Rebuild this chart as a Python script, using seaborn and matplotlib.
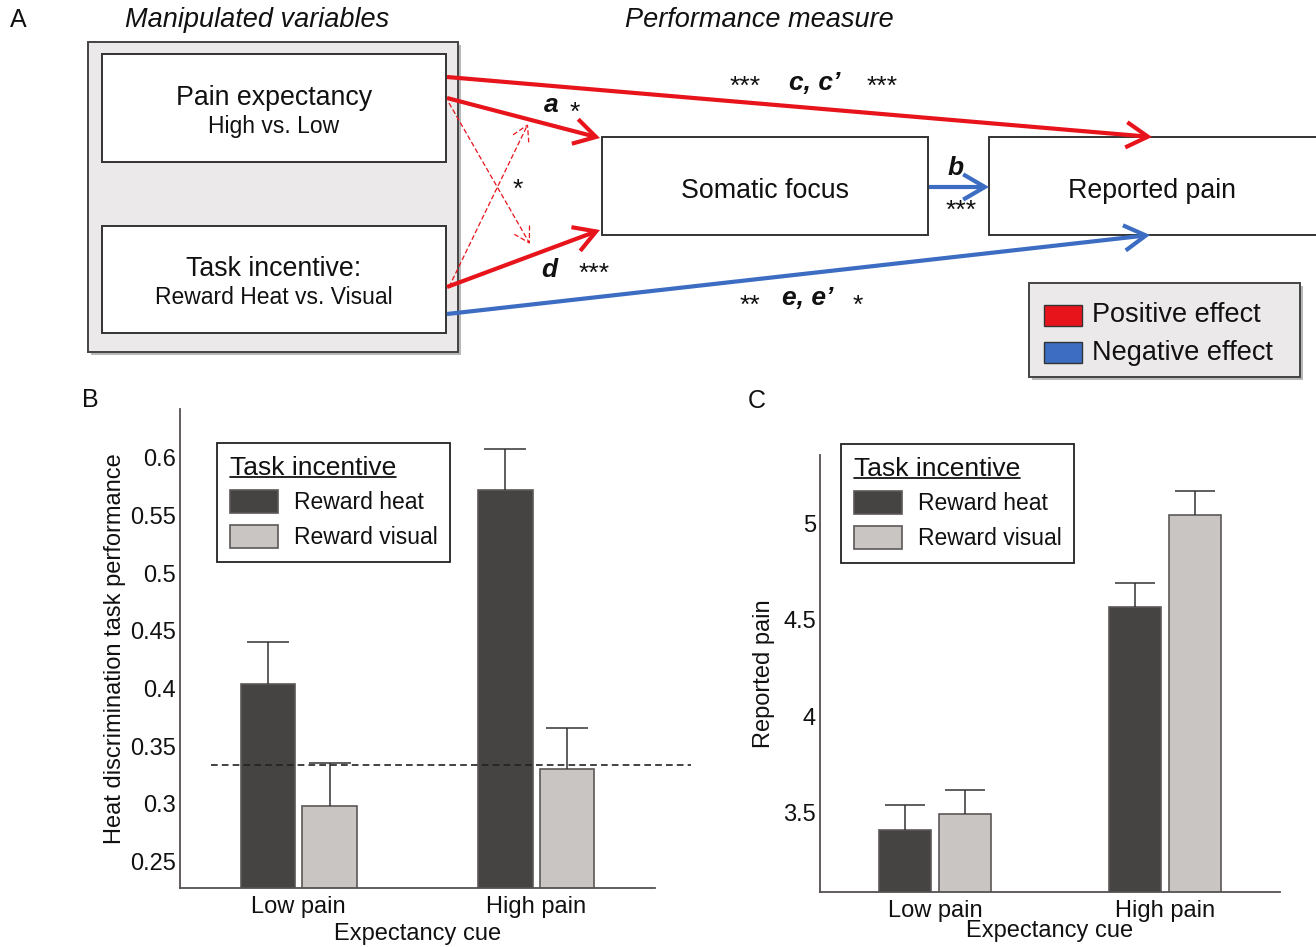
import numpy as np
import pandas as pd
import matplotlib.pyplot as plt
import seaborn as sns
from matplotlib.patches import Rectangle, FancyArrowPatch
from matplotlib.lines import Line2D

# values
cues = ['Low pain', 'High pain']
incentives = ['Reward heat', 'Reward visual']
perf_heat = [0.404, 0.572]
perf_visual = [0.298, 0.330]
perf_err_heat = [0.036, 0.036]
perf_err_visual = [0.037, 0.036]
pain_heat = [3.408, 4.564]
pain_visual = [3.491, 5.040]
pain_err_heat = [0.129, 0.123]
pain_err_visual = [0.125, 0.126]
chance_level = 1 / 3

sns.set_style('white')
plt.rcParams['font.family'] = ['Liberation Sans', 'DejaVu Sans']
plt.rcParams['text.color'] = '#111111'
plt.rcParams['axes.labelcolor'] = '#111111'
plt.rcParams['xtick.labelcolor'] = '#111111'
plt.rcParams['ytick.labelcolor'] = '#111111'

DARK = '#474243'
LIGHT = '#cac4c2'
EDGE = '#5c5858'
SPINE = '#555151'
RED = '#e8141c'
BLUE = '#3c6dc2'
PANEL = '#ebe9e9'

fig = plt.figure(figsize=(13.16, 9.47), dpi=100)

# ---- panel A: path diagram, drawn in pixel coordinates ----
axd = fig.add_axes([0, 0, 1, 1], zorder=0)
axd.set_xlim(0, 1316)
axd.set_ylim(947, 0)
axd.axis('off')


def box(x0, y0, x1, y1, fc='white', ec='#333333', lw=1.4, shadow=False):
    if shadow:
        axd.add_patch(Rectangle((x0 + 3, y0 + 3), x1 - x0, y1 - y0, fc='#b8b8b8', ec='none'))
    axd.add_patch(Rectangle((x0, y0), x1 - x0, y1 - y0, fc=fc, ec=ec, lw=lw))


def arrow(p0, p1, color, lw=3.0, ls='-', scale=26):
    axd.add_patch(FancyArrowPatch(p0, p1, arrowstyle='->,head_length=0.6,head_width=0.35',
                                  mutation_scale=scale, color=color, lw=lw, linestyle=ls,
                                  shrinkA=0, shrinkB=0, joinstyle='miter', capstyle='butt'))


box(88, 42, 458, 352, fc=PANEL, ec='#444444', shadow=True)
box(102, 54, 446, 162)
box(102, 226, 446, 333)
box(602, 137, 928, 235)
box(989, 137, 1318, 235)

arrow((447, 77), (1152, 137), RED)
arrow((447, 98), (600, 138), RED)
arrow((447, 287), (600, 230), RED)
arrow((447, 314), (1150, 235), BLUE)
arrow((929, 187), (989, 187), BLUE)
arrow((449, 103), (530, 244), RED, lw=0.9, ls=(0, (4, 2)), scale=18)
arrow((449, 287), (528, 124), RED, lw=0.9, ls=(0, (4, 2)), scale=18)

axd.text(18, 20, 'A', fontsize=18, ha='center', va='center')
axd.text(257, 20, 'Manipulated variables', fontsize=19.5, style='italic', ha='center', va='center')
axd.text(759, 20, 'Performance measure', fontsize=19.5, style='italic', ha='center', va='center')
axd.text(274, 105, 'Pain expectancy', fontsize=19.3, ha='center', va='baseline')
axd.text(274, 133, 'High vs. Low', fontsize=16.5, ha='center', va='baseline')
axd.text(274, 276, 'Task incentive:', fontsize=19.3, ha='center', va='baseline')
axd.text(274, 304, 'Reward Heat vs. Visual', fontsize=16.5, ha='center', va='baseline')
axd.text(765, 198, 'Somatic focus', fontsize=19.3, ha='center', va='baseline')
axd.text(1152, 198, 'Reported pain', fontsize=19.3, ha='center', va='baseline')

bi = dict(fontsize=19, weight='bold', style='italic', ha='center', va='baseline')
star = dict(fontsize=19, ha='center', va='baseline')
axd.text(551, 112, 'a', **bi)
axd.text(575, 120, '*', **star)
axd.text(518, 197, '*', **star)
axd.text(549, 277, 'd', **bi)
axd.text(594, 281, '***', **star)
axd.text(745, 94, '***', **star)
axd.text(815, 90, 'c, c’', **bi)
axd.text(882, 94, '***', **star)
axd.text(956, 175, 'b', **bi)
axd.text(961, 218, '***', **star)
axd.text(750, 313, '**', **star)
axd.text(808, 305, 'e, e’', **bi)
axd.text(858, 313, '*', **star)

box(1029, 283, 1300, 377, fc=PANEL, ec='#444444', shadow=True)
box(1044, 305, 1082, 326, fc=RED, ec='#333333', lw=1)
box(1044, 342, 1082, 363, fc=BLUE, ec='#333333', lw=1)
axd.text(1092, 315, 'Positive effect', fontsize=19.5, ha='left', va='center')
axd.text(1092, 353, 'Negative effect', fontsize=19.5, ha='left', va='center')


# ---- panels B and C: bar charts ----
def bar_panel(rect, heat, visual, err_heat, err_visual, ylim, yticks, ylabel, letter, letter_xy,
              legend_anchor, xpad, ypad):
    ax = fig.add_axes(rect, zorder=2)
    df = pd.DataFrame({
        'cue': cues * 2,
        'incentive': [incentives[0]] * 2 + [incentives[1]] * 2,
        'value': heat + visual,
    })
    sns.barplot(data=df, x='cue', y='value', hue='incentive', palette=[DARK, LIGHT],
                width=0.52, gap=0.12, edgecolor=EDGE, linewidth=1.2, errorbar=None, ax=ax)
    for cont, errs in zip(ax.containers, [err_heat, err_visual]):
        for bar, e in zip(cont, errs):
            xc = bar.get_x() + bar.get_width() / 2
            top = bar.get_height()
            ax.vlines(xc, top, top + e, color='#333333', lw=1.1, zorder=3)
            ax.hlines(top + e, xc - 0.088, xc + 0.088, color='#333333', lw=1.1, zorder=3)
    ax.set_xlim(-0.5, 1.5)
    ax.set_ylim(*ylim)
    ax.set_yticks(yticks)
    ax.set_yticklabels([f'{t:g}' for t in yticks])
    sns.despine(ax=ax)
    for s in ['left', 'bottom']:
        ax.spines[s].set_color(SPINE)
        ax.spines[s].set_linewidth(1.3)
    ax.tick_params(axis='x', direction='in', length=5, color=SPINE, labelsize=17, pad=6)
    ax.tick_params(axis='y', length=0, labelsize=17, pad=3)
    ax.set_xlabel('Expectancy cue', fontsize=17, labelpad=xpad)
    ax.set_ylabel(ylabel, fontsize=17, labelpad=ypad)
    leg = ax.legend(title='Task incentive', loc='upper left', bbox_to_anchor=legend_anchor,
                    borderaxespad=0, frameon=True, fancybox=False, edgecolor='#222222',
                    framealpha=1, fontsize=16.5, title_fontsize=19, alignment='left',
                    handlelength=2.1, handleheight=1.2, handletextpad=0.7,
                    labelspacing=0.45, borderpad=0.55)
    leg.get_frame().set_linewidth(1.3)
    fig.text(*letter_xy, letter, fontsize=18, ha='center', va='center')
    return ax, leg


axB, legB = bar_panel([180 / 1316, 59 / 947, 475 / 1316, 478.5 / 947],
                      perf_heat, perf_visual, perf_err_heat, perf_err_visual,
                      (0.227, 0.642), [0.25, 0.3, 0.35, 0.4, 0.45, 0.5, 0.55, 0.6],
                      'Heat discrimination task performance', 'B', (90 / 1316, 1 - 400 / 947),
                      (0.078, 0.930), 3, 3)
axB.plot([-0.37, 1.65], [chance_level, chance_level], ls=(0, (4, 2.5)), color='#222222',
         lw=1.2, clip_on=False, zorder=4)

axC, legC = bar_panel([820 / 1316, 55.4 / 947, 460 / 1316, 436.6 / 947],
                      pain_heat, pain_visual, pain_err_heat, pain_err_visual,
                      (3.09, 5.353), [3.5, 4, 4.5, 5], 'Reported pain', 'C',
                      (757 / 1316, 1 - 401 / 947), (0.046, 1.025), -1.5, 6)

# underline the legend titles
fig.canvas.draw()
renderer = fig.canvas.get_renderer()
W, H = fig.bbox.width, fig.bbox.height
for leg in [legB, legC]:
    bb = leg.get_title().get_window_extent(renderer)
    y = bb.y0 + 3
    fig.add_artist(Line2D([bb.x0 / W, bb.x1 / W], [y / H, y / H], transform=fig.transFigure,
                          color='black', lw=1.2, zorder=10))

fig.savefig('out.png', dpi=100)
